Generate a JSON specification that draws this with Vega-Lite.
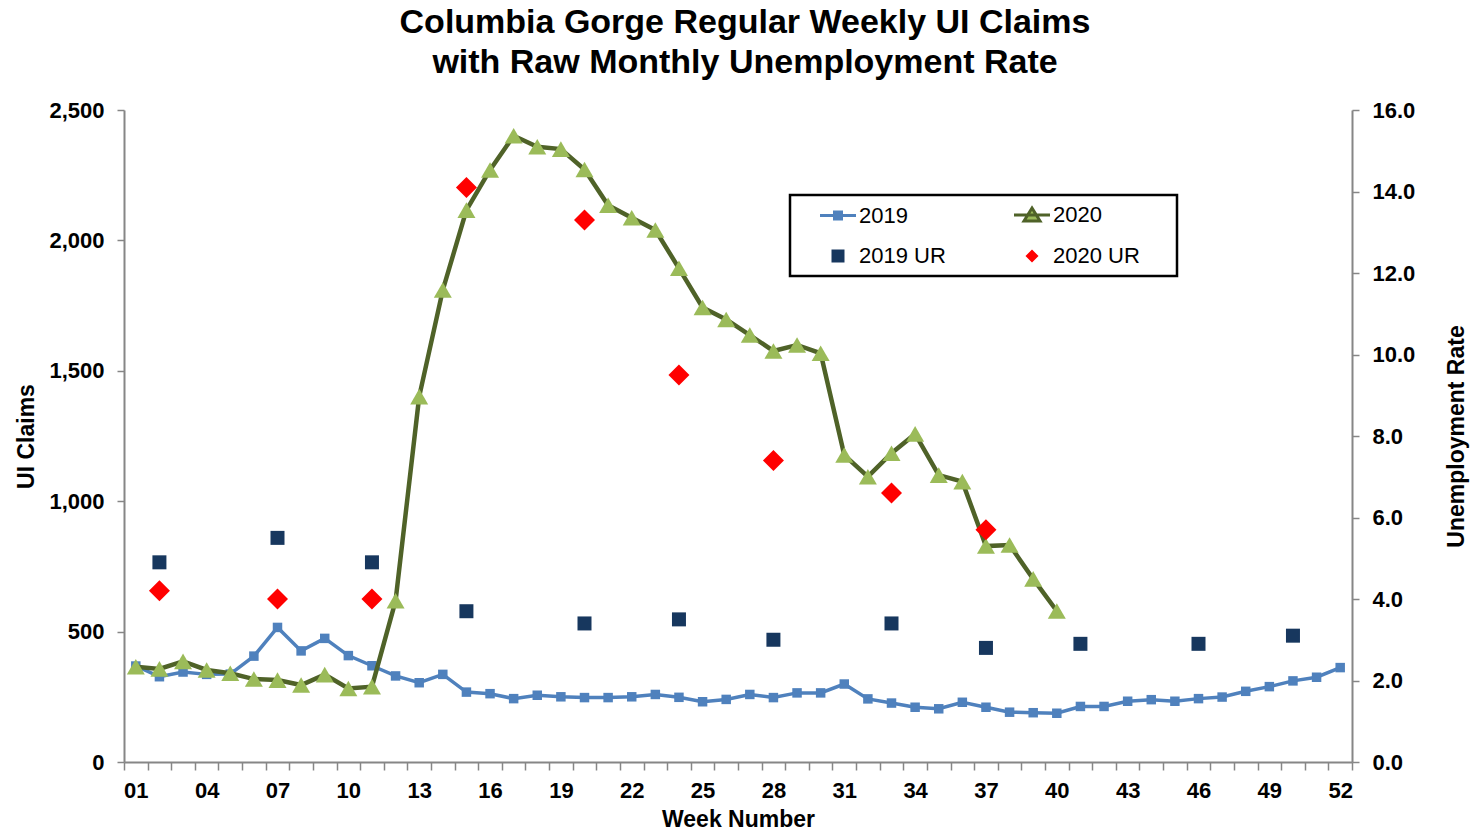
{
  "$schema": "https://vega.github.io/schema/vega-lite/v6.json",
  "autosize": {"type": "none"},
  "padding": {"left": 124, "top": 110, "right": 120, "bottom": 69},
  "width": 1228,
  "height": 652,
  "background": "white",
  "title": {
    "text": ["Columbia Gorge Regular Weekly UI Claims", "with Raw Monthly Unemployment Rate"],
    "anchor": "middle",
    "frame": "group",
    "font": "Liberation Sans",
    "fontSize": 34,
    "fontWeight": "bold",
    "lineHeight": 40,
    "color": "black",
    "offset": 19,
    "dx": 7
  },
  "datasets": {
    "claims": [
      {"week": 1, "series": "2019", "claims": 368},
      {"week": 2, "series": "2019", "claims": 327},
      {"week": 3, "series": "2019", "claims": 345},
      {"week": 4, "series": "2019", "claims": 336},
      {"week": 5, "series": "2019", "claims": 337},
      {"week": 6, "series": "2019", "claims": 406},
      {"week": 7, "series": "2019", "claims": 516},
      {"week": 8, "series": "2019", "claims": 426},
      {"week": 9, "series": "2019", "claims": 474},
      {"week": 10, "series": "2019", "claims": 408},
      {"week": 11, "series": "2019", "claims": 369},
      {"week": 12, "series": "2019", "claims": 330},
      {"week": 13, "series": "2019", "claims": 304},
      {"week": 14, "series": "2019", "claims": 336},
      {"week": 15, "series": "2019", "claims": 268},
      {"week": 16, "series": "2019", "claims": 262},
      {"week": 17, "series": "2019", "claims": 243},
      {"week": 18, "series": "2019", "claims": 256},
      {"week": 19, "series": "2019", "claims": 250},
      {"week": 20, "series": "2019", "claims": 247},
      {"week": 21, "series": "2019", "claims": 247},
      {"week": 22, "series": "2019", "claims": 250},
      {"week": 23, "series": "2019", "claims": 259},
      {"week": 24, "series": "2019", "claims": 248},
      {"week": 25, "series": "2019", "claims": 231},
      {"week": 26, "series": "2019", "claims": 240},
      {"week": 27, "series": "2019", "claims": 259},
      {"week": 28, "series": "2019", "claims": 247},
      {"week": 29, "series": "2019", "claims": 265},
      {"week": 30, "series": "2019", "claims": 265},
      {"week": 31, "series": "2019", "claims": 299},
      {"week": 32, "series": "2019", "claims": 242},
      {"week": 33, "series": "2019", "claims": 226},
      {"week": 34, "series": "2019", "claims": 210},
      {"week": 35, "series": "2019", "claims": 204},
      {"week": 36, "series": "2019", "claims": 229},
      {"week": 37, "series": "2019", "claims": 210},
      {"week": 38, "series": "2019", "claims": 191},
      {"week": 39, "series": "2019", "claims": 189},
      {"week": 40, "series": "2019", "claims": 187},
      {"week": 41, "series": "2019", "claims": 213},
      {"week": 42, "series": "2019", "claims": 213},
      {"week": 43, "series": "2019", "claims": 233},
      {"week": 44, "series": "2019", "claims": 239},
      {"week": 45, "series": "2019", "claims": 233},
      {"week": 46, "series": "2019", "claims": 243},
      {"week": 47, "series": "2019", "claims": 249},
      {"week": 48, "series": "2019", "claims": 271},
      {"week": 49, "series": "2019", "claims": 289},
      {"week": 50, "series": "2019", "claims": 311},
      {"week": 51, "series": "2019", "claims": 325},
      {"week": 52, "series": "2019", "claims": 362},
      {"week": 1, "series": "2020", "claims": 365},
      {"week": 2, "series": "2020", "claims": 357},
      {"week": 3, "series": "2020", "claims": 386},
      {"week": 4, "series": "2020", "claims": 353},
      {"week": 5, "series": "2020", "claims": 340},
      {"week": 6, "series": "2020", "claims": 318},
      {"week": 7, "series": "2020", "claims": 314},
      {"week": 8, "series": "2020", "claims": 295},
      {"week": 9, "series": "2020", "claims": 335},
      {"week": 10, "series": "2020", "claims": 282},
      {"week": 11, "series": "2020", "claims": 289},
      {"week": 12, "series": "2020", "claims": 618},
      {"week": 13, "series": "2020", "claims": 1401},
      {"week": 14, "series": "2020", "claims": 1810},
      {"week": 15, "series": "2020", "claims": 2116},
      {"week": 16, "series": "2020", "claims": 2270},
      {"week": 17, "series": "2020", "claims": 2401},
      {"week": 18, "series": "2020", "claims": 2359},
      {"week": 19, "series": "2020", "claims": 2350},
      {"week": 20, "series": "2020", "claims": 2272},
      {"week": 21, "series": "2020", "claims": 2135},
      {"week": 22, "series": "2020", "claims": 2087},
      {"week": 23, "series": "2020", "claims": 2040},
      {"week": 24, "series": "2020", "claims": 1893},
      {"week": 25, "series": "2020", "claims": 1743},
      {"week": 26, "series": "2020", "claims": 1697},
      {"week": 27, "series": "2020", "claims": 1637},
      {"week": 28, "series": "2020", "claims": 1576},
      {"week": 29, "series": "2020", "claims": 1599},
      {"week": 30, "series": "2020", "claims": 1567},
      {"week": 31, "series": "2020", "claims": 1177},
      {"week": 32, "series": "2020", "claims": 1094},
      {"week": 33, "series": "2020", "claims": 1184},
      {"week": 34, "series": "2020", "claims": 1258},
      {"week": 35, "series": "2020", "claims": 1100},
      {"week": 36, "series": "2020", "claims": 1075},
      {"week": 37, "series": "2020", "claims": 828},
      {"week": 38, "series": "2020", "claims": 832},
      {"week": 39, "series": "2020", "claims": 702},
      {"week": 40, "series": "2020", "claims": 579}
    ],
    "ur": [
      {"week": 2, "series": "2019 UR", "rate": 4.9},
      {"week": 7, "series": "2019 UR", "rate": 5.5},
      {"week": 11, "series": "2019 UR", "rate": 4.9},
      {"week": 15, "series": "2019 UR", "rate": 3.7},
      {"week": 20, "series": "2019 UR", "rate": 3.4},
      {"week": 24, "series": "2019 UR", "rate": 3.5},
      {"week": 28, "series": "2019 UR", "rate": 3.0},
      {"week": 33, "series": "2019 UR", "rate": 3.4},
      {"week": 37, "series": "2019 UR", "rate": 2.8},
      {"week": 41, "series": "2019 UR", "rate": 2.9},
      {"week": 46, "series": "2019 UR", "rate": 2.9},
      {"week": 50, "series": "2019 UR", "rate": 3.1},
      {"week": 2, "series": "2020 UR", "rate": 4.2},
      {"week": 7, "series": "2020 UR", "rate": 4.0},
      {"week": 11, "series": "2020 UR", "rate": 4.0},
      {"week": 15, "series": "2020 UR", "rate": 14.1},
      {"week": 20, "series": "2020 UR", "rate": 13.3},
      {"week": 24, "series": "2020 UR", "rate": 9.5},
      {"week": 28, "series": "2020 UR", "rate": 7.4},
      {"week": 33, "series": "2020 UR", "rate": 6.6},
      {"week": 37, "series": "2020 UR", "rate": 5.7}
    ]
  },
  "encoding": {
    "x": {
      "field": "week",
      "type": "ordinal",
      "scale": {
        "type": "band",
        "paddingInner": 0,
        "paddingOuter": 0,
        "domain": [1,2,3,4,5,6,7,8,9,10,11,12,13,14,15,16,17,18,19,20,21,22,23,24,25,26,27,28,29,30,31,32,33,34,35,36,37,38,39,40,41,42,43,44,45,46,47,48,49,50,51,52]
      },
      "axis": {
        "title": "Week Number",
        "tickBand": "extent",
        "labelExpr": "datum.value % 3 == 1 ? (datum.value < 10 ? '0' + datum.value : '' + datum.value) : ''",
        "labelAngle": 0,
        "labelOverlap": false,
        "labelFont": "Liberation Sans",
        "labelFontWeight": "bold",
        "labelFontSize": 22,
        "labelColor": "black",
        "labelPadding": 10,
        "tickSize": 8,
        "tickColor": "#868686",
        "tickWidth": 1.5,
        "domainColor": "#868686",
        "domainWidth": 2,
        "grid": false,
        "titleFont": "Liberation Sans",
        "titleFontWeight": "bold",
        "titleFontSize": 23,
        "titleColor": "black",
        "titlePadding": 7
      }
    }
  },
  "layer": [
    {
      "data": {"name": "claims"},
      "encoding": {
        "y": {
          "field": "claims",
          "type": "quantitative",
          "scale": {"domain": [0, 2500], "nice": false, "zero": true},
          "axis": {
            "orient": "left",
            "title": "UI Claims",
            "values": [0, 500, 1000, 1500, 2000, 2500],
            "format": ",.0f",
            "labelFont": "Liberation Sans",
            "labelFontWeight": "bold",
            "labelFontSize": 22,
            "labelColor": "black",
            "labelPadding": 13,
            "tickSize": 7,
            "tickColor": "#868686",
            "tickWidth": 1.5,
            "domainColor": "#868686",
            "domainWidth": 2,
            "grid": false,
            "titleFont": "Liberation Sans",
            "titleFontWeight": "bold",
            "titleFontSize": 23,
            "titleColor": "black",
            "titlePadding": 10
          }
        }
      },
      "layer": [
        {
          "transform": [{"filter": "datum.series == '2019'"}],
          "mark": {"type": "line", "color": "#4F81BD", "strokeWidth": 3.5}
        },
        {
          "transform": [{"filter": "datum.series == '2019'"}],
          "mark": {"type": "point", "shape": "square", "filled": true, "size": 90, "opacity": 1, "strokeWidth": 0},
          "encoding": {
            "color": {
              "field": "series",
              "type": "nominal",
              "scale": {"domain": ["2019", "2020", "2019 UR", "2020 UR"], "range": ["#4F81BD", "#9BBB59", "#17375E", "#FF0000"]},
              "legend": {
                "title": " ",
                "encode": {
                  "legend": {"update": {"strokeWidth": {"value": 2.5}}},
                  "symbols": {
                    "update": {
                      "shape": {"signal": "datum.value == '2019' ? 'M-1.8,-0.15L1.8,-0.15L1.8,0.15L-1.8,0.15ZM-0.5,-0.5L0.5,-0.5L0.5,0.5L-0.5,0.5Z' : datum.value == '2020' ? 'M-1.8,0L1.8,0M0,-0.7L0.8,0.6L-0.8,0.6Z' : datum.value == '2019 UR' ? 'M-0.65,-0.65L0.65,-0.65L0.65,0.65L-0.65,0.65Z' : 'M0,-0.65L0.65,0L0,0.65L-0.65,0ZM13.6,0L13.6,0'"},
                      "fill": {"signal": "datum.value == '2019' ? '#4F81BD' : datum.value == '2020' ? '#9BBB59' : datum.value == '2019 UR' ? '#17375E' : '#FF0000'"},
                      "stroke": {"signal": "datum.value == '2020' ? '#4F6228' : 'transparent'"},
                      "strokeWidth": {"signal": "datum.value == '2020' ? 3 : 0"},
                      "size": {"value": 400},
                      "opacity": {"value": 1}
                    }
                  }
                }
              }
            }
          }
        },
        {
          "transform": [{"filter": "datum.series == '2020'"}],
          "mark": {"type": "line", "color": "#4F6228", "strokeWidth": 4.5}
        },
        {
          "transform": [{"filter": "datum.series == '2020'"}],
          "mark": {"type": "point", "shape": "triangle-up", "filled": true, "size": 324, "opacity": 1, "strokeWidth": 0},
          "encoding": {
            "color": {"field": "series", "type": "nominal"}
          }
        }
      ]
    },
    {
      "data": {"name": "ur"},
      "encoding": {
        "y": {
          "field": "rate",
          "type": "quantitative",
          "scale": {"domain": [0, 16], "nice": false},
          "axis": {
            "orient": "right",
            "title": "Unemployment  Rate",
            "titleAngle": 270,
            "values": [0, 2, 4, 6, 8, 10, 12, 14, 16],
            "format": ".1f",
            "labelFont": "Liberation Sans",
            "labelFontWeight": "bold",
            "labelFontSize": 22,
            "labelColor": "black",
            "labelPadding": 13,
            "tickSize": 7,
            "tickColor": "#868686",
            "tickWidth": 1.5,
            "domainColor": "#868686",
            "domainWidth": 2,
            "grid": false,
            "titleFont": "Liberation Sans",
            "titleFontWeight": "bold",
            "titleFontSize": 23,
            "titleColor": "black",
            "titlePadding": 54
          }
        }
      },
      "layer": [
        {
          "transform": [{"filter": "datum.series == '2019 UR'"}],
          "mark": {"type": "point", "shape": "square", "filled": true, "size": 196, "opacity": 1, "strokeWidth": 0},
          "encoding": {
            "color": {"field": "series", "type": "nominal"}
          }
        },
        {
          "transform": [{"filter": "datum.series == '2020 UR'"}],
          "mark": {"type": "point", "shape": "diamond", "filled": true, "size": 441, "opacity": 1, "strokeWidth": 0},
          "encoding": {
            "color": {"field": "series", "type": "nominal"}
          }
        }
      ]
    }
  ],
  "resolve": {"scale": {"y": "independent"}},
  "config": {
    "view": {"stroke": null},
    "legend": {
      "orient": "none",
      "legendX": 666,
      "legendY": 85,
      "columns": 2,
      "direction": "horizontal",
      "padding": 9,
      "strokeColor": "black",
      "fillColor": "white",
      "titleOrient": "left",
      "titleFontSize": 1,
      "titleColor": "transparent",
      "titlePadding": 28,
      "labelFont": "Liberation Sans",
      "labelFontSize": 22,
      "labelColor": "black",
      "labelOffset": 10,
      "symbolSize": 400,
      "columnPadding": 62,
      "rowPadding": 18,
      "symbolOpacity": 1
    }
  }
}
